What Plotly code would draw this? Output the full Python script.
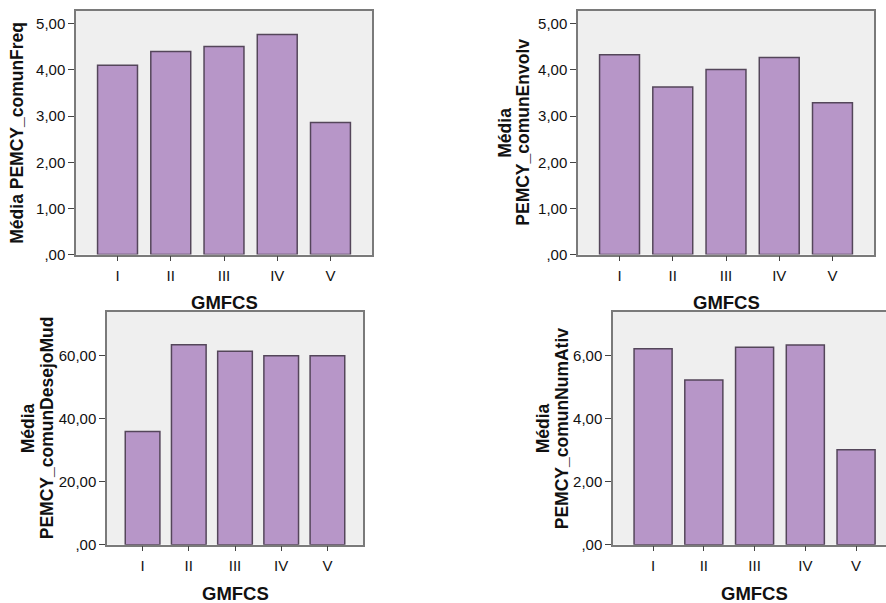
import plotly.graph_objects as go

categories = ["I", "II", "III", "IV", "V"]
comun_freq = [4.10, 4.40, 4.51, 4.77, 2.86]
comun_envolv = [4.33, 3.63, 4.01, 4.27, 3.29]
comun_desejo_mud = [36.0, 63.5, 61.5, 60.0, 60.0]
comun_num_ativ = [6.21, 5.22, 6.26, 6.33, 3.01]

ticks_5 = [0, 1, 2, 3, 4, 5]
ticks_5_text = [",00", "1,00", "2,00", "3,00", "4,00", "5,00"]
ticks_60 = [0, 20, 40, 60]
ticks_60_text = [",00", "20,00", "40,00", "60,00"]
ticks_6 = [0, 2, 4, 6]
ticks_6_text = [",00", "2,00", "4,00", "6,00"]

x_title = "GMFCS"
y_titles = [
    ["Média PEMCY_comunFreq"],
    ["Média", "PEMCY_comunEnvolv"],
    ["Média", "PEMCY_comunDesejoMud"],
    ["Média", "PEMCY_comunNumAtiv"],
]

W, H = 886, 603
BAR_FILL = "#b796c8"
BAR_LINE = "#54465a"
FRAME = "#7a7a7a"
FONT = "Liberation Sans, Arial, sans-serif"

panels = [
    dict(vals=comun_freq, tv=ticks_5, tt=ticks_5_text, yr=[0, 5.28], xd=(76, 372), yd=(11, 258),
         xr=[-0.78, 4.78], my=True, tx=[17], xc=224),
    dict(vals=comun_envolv, tv=ticks_5, tt=ticks_5_text, yr=[0, 5.28], xd=(578, 874), yd=(11, 258),
         xr=[-0.78, 4.78], my=True, tx=[505, 523], xc=726),
    dict(vals=comun_desejo_mud, tv=ticks_60, tt=ticks_60_text, yr=[0, 74], xd=(107, 363), yd=(316, 552),
         xr=[-0.77, 4.77], my=True, tx=[28, 47], xc=235),
    dict(vals=comun_num_ativ, tv=ticks_6, tt=ticks_6_text, yr=[0, 7.38], xd=(613, 886), yd=(316, 552),
         xr=[-0.79, 4.59], my=False, tx=[543, 562], xc=754),
]

fig = go.Figure()
annotations = []
for i, p in enumerate(panels):
    n = "" if i == 0 else str(i + 1)
    fig.add_trace(go.Bar(
        x=categories, y=p["vals"], xaxis="x" + n, yaxis="y" + n,
        marker=dict(color=BAR_FILL, line=dict(color=BAR_LINE, width=1.5)),
        showlegend=False, hoverinfo="x+y",
    ))
    x0, x1 = p["xd"]
    t, b = p["yd"]
    xdom = [x0 / W, min(x1 / W, 1.0)]
    ydom = [1 - b / H, 1 - t / H]
    fig.layout["xaxis" + n] = dict(
        domain=xdom, anchor="y" + n, range=p["xr"], type="category",
        showline=True, linecolor=FRAME, linewidth=1.5, mirror=True,
        ticks="outside", ticklen=5, tickcolor="#444444", tickwidth=1.2,
        ticklabelstandoff=2,
        tickfont=dict(family=FONT, size=15, color="#111111"),
        showgrid=False, zeroline=False, fixedrange=True,
    )
    fig.layout["yaxis" + n] = dict(
        domain=ydom, anchor="x" + n, range=p["yr"],
        tickvals=p["tv"], ticktext=p["tt"],
        showline=True, linecolor=FRAME, linewidth=1.5, mirror=p["my"],
        ticks="outside", ticklen=6, tickcolor="#444444", tickwidth=1.2,
        tickfont=dict(family=FONT, size=15, color="#111111"),
        showgrid=False, zeroline=False, fixedrange=True,
    )
    annotations.append(dict(
        text="<b>%s</b>" % x_title, x=p["xc"] / W, y=1 - (b + 49) / H, xref="paper", yref="paper",
        xanchor="center", yanchor="middle", showarrow=False,
        font=dict(family=FONT, size=18.5, color="#111111"),
    ))
    yc = (t + b) / 2
    for line, lx in zip(y_titles[i], p["tx"]):
        annotations.append(dict(
            text="<b>%s</b>" % line, x=lx / W, y=1 - yc / H, xref="paper", yref="paper",
            xanchor="center", yanchor="middle", textangle=-90, showarrow=False,
            font=dict(family=FONT, size=17.5, color="#111111"),
        ))

fig.update_layout(
    width=W, height=H, margin=dict(l=0, r=0, t=0, b=0),
    paper_bgcolor="white", plot_bgcolor="#efefef",
    bargap=0.25, annotations=annotations,
)

fig.write_html("out.html")
